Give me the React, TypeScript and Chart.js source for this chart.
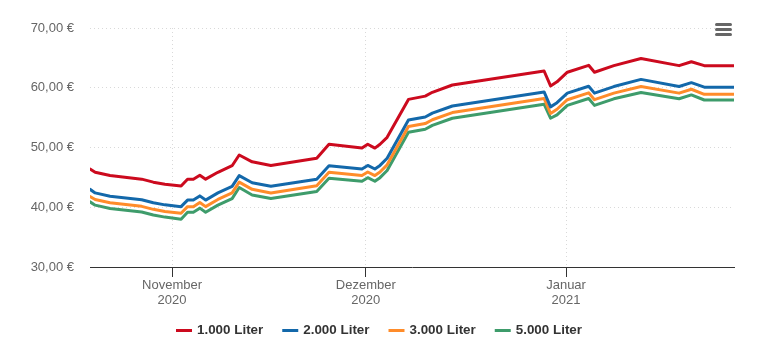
import React, { useEffect, useRef } from "react";
import { Chart, registerables } from "chart.js";

Chart.register(...registerables);

// Day offsets relative to 1 November 2020
const dayOffsets = [
  -12.7, -11.9, -9.6, -4.7, -2.9, -1.1, 1.4, 2.4, 3.3, 4.3, 5.2, 7.1, 9.3, 10.4,
  12.4, 15.3, 22.4, 24.3, 29.4, 30.3, 31.4, 32.2, 33.3, 36.6, 39.2, 40.3, 43.4,
  57.6, 58.6, 59.6, 61.2, 64.5, 65.4, 68.4, 72.6, 78.5, 80.4, 82.4, 87,
];

const liter1000 = [
  46.4, 45.85, 45.3, 44.7, 44.2, 43.85, 43.55, 44.7, 44.7, 45.35, 44.7, 45.85,
  46.95, 48.75, 47.6, 47.0, 48.2, 50.55, 49.9, 50.55, 49.9, 50.55, 51.7, 58.05,
  58.6, 59.24, 60.46, 62.8, 60.3, 61.0, 62.6, 63.75, 62.6, 63.7, 64.9, 63.7,
  64.36, 63.7, 63.7,
];
const liter2000 = [
  43.0, 42.4, 41.85, 41.25, 40.75, 40.4, 40.1, 41.2, 41.2, 41.9, 41.2, 42.4,
  43.5, 45.3, 44.1, 43.5, 44.7, 46.95, 46.4, 47.0, 46.4, 47.0, 48.2, 54.6, 55.1,
  55.75, 56.95, 59.3, 56.8, 57.5, 59.1, 60.25, 59.1, 60.2, 61.4, 60.2, 60.85,
  60.1, 60.1,
];
const liter3000 = [
  41.8, 41.3, 40.75, 40.15, 39.65, 39.3, 39.0, 40.1, 40.1, 40.8, 40.1, 41.3,
  42.4, 44.2, 43.0, 42.4, 43.6, 45.85, 45.3, 45.9, 45.3, 45.9, 47.1, 53.5, 54.0,
  54.65, 55.85, 58.2, 55.7, 56.4, 58.0, 59.15, 58.0, 59.1, 60.2, 59.1, 59.75,
  58.9, 58.9,
];
const liter5000 = [
  40.9, 40.35, 39.8, 39.2, 38.7, 38.35, 38.0, 39.15, 39.15, 39.85, 39.15, 40.35,
  41.45, 43.3, 42.05, 41.45, 42.65, 44.85, 44.35, 44.95, 44.35, 44.95, 46.15,
  52.55, 53.05, 53.7, 54.9, 57.25, 54.9, 55.45, 57.05, 58.2, 57.05, 58.15, 59.2,
  58.15, 58.8, 57.95, 57.95,
];

const seriesNames = ["1.000 Liter", "2.000 Liter", "3.000 Liter", "5.000 Liter"];
const seriesValues = [liter1000, liter2000, liter3000, liter5000];
const seriesColors = ["#cc0a1e", "#1368aa", "#ff8c2a", "#3e9c6b"];

const monthTickValues = [0, 30, 61];
const monthTickLabels = [
  ["November", "2020"],
  ["Dezember", "2020"],
  ["Januar", "2021"],
];
const xMin = -12.7;
const xMax = 87;
const yMin = 30;
const yMax = 70;
const yStep = 10;

const FONT = "'Liberation Sans', Arial, Helvetica, sans-serif";

const legendPlugin = {
  id: "customLegend",
  afterDraw(chart: any) {
    const ctx = chart.ctx;
    ctx.save();
    ctx.font = `bold 13.4px ${FONT}`;
    ctx.textBaseline = "middle";
    const symW = 16;
    const symGap = 5;
    const itemGap = 19;
    const widths = seriesNames.map((n) => symW + symGap + ctx.measureText(n).width);
    const total = widths.reduce((a, b) => a + b, 0) + itemGap * (widths.length - 1);
    let x = (chart.width - total) / 2;
    const y = 330.5;
    seriesNames.forEach((name, i) => {
      ctx.strokeStyle = seriesColors[i];
      ctx.lineWidth = 3;
      ctx.beginPath();
      ctx.moveTo(x, y);
      ctx.lineTo(x + symW, y);
      ctx.stroke();
      ctx.fillStyle = "#333333";
      ctx.fillText(name, x + symW + symGap, y);
      x += widths[i] + itemGap;
    });
    // menu icon
    ctx.strokeStyle = "#666666";
    ctx.lineWidth = 3;
    ctx.lineCap = "round";
    [24.5, 29.5, 34.5].forEach((yy) => {
      ctx.beginPath();
      ctx.moveTo(716.5, yy);
      ctx.lineTo(730.5, yy);
      ctx.stroke();
    });
    ctx.restore();
  },
};

export default function App() {
  const canvasRef = useRef<HTMLCanvasElement | null>(null);

  useEffect(() => {
    document.body.style.margin = "0";
    const canvas = canvasRef.current;
    if (!canvas) return;
    const chart = new Chart(canvas, {
      type: "line",
      data: {
        datasets: seriesNames.map((name, i) => ({
          label: name,
          data: dayOffsets.map((d, j) => ({ x: d, y: seriesValues[i][j] })),
          borderColor: seriesColors[i],
          backgroundColor: seriesColors[i],
          borderWidth: 3,
          pointRadius: 0,
          tension: 0,
          borderJoinStyle: "round",
          borderCapStyle: "round",
          order: i,
        })),
      },
      options: {
        animation: false,
        responsive: false,
        devicePixelRatio: 1,
        layout: { padding: { left: 0, right: 24, top: 28, bottom: 0 } },
        plugins: {
          legend: { display: false },
          tooltip: { enabled: false },
        },
        scales: {
          x: {
            type: "linear",
            min: xMin,
            max: xMax,
            afterBuildTicks: (scale: any) => {
              scale.ticks = monthTickValues.map((v) => ({ value: v }));
            },
            afterFit: (scale: any) => {
              scale.height = 81;
            },
            ticks: {
              autoSkip: false,
              maxRotation: 0,
              padding: 1,
              color: "#666666",
              font: { family: FONT, size: 13, lineHeight: 1.17 },
              callback: (_v: any, i: number) => monthTickLabels[i],
            },
            grid: {
              color: "#d9d9d9",
              lineWidth: 1,
              drawTicks: true,
              tickLength: 10,
              tickColor: "#333333",
              tickWidth: 1,
            },
            border: { display: true, color: "#333333", width: 1, dash: [1, 3] },
          },
          y: {
            min: yMin,
            max: yMax,
            afterFit: (scale: any) => {
              scale.width = 90;
            },
            ticks: {
              stepSize: yStep,
              padding: 16,
              color: "#666666",
              font: { family: FONT, size: 13 },
              callback: (v: any) => Number(v).toFixed(2).replace(".", ",") + " €",
            },
            grid: { color: "#d9d9d9", lineWidth: 1, drawTicks: false },
            border: { display: false, dash: [1, 3] },
          },
        },
      },
      plugins: [legendPlugin],
    } as any);
    return () => chart.destroy();
  }, []);

  return (
    <div style={{ position: "absolute", left: 0, top: 0, width: 758, height: 348, background: "#fff" }}>
      <canvas ref={canvasRef} width={758} height={348} style={{ width: 758, height: 348, display: "block" }} />
    </div>
  );
}
